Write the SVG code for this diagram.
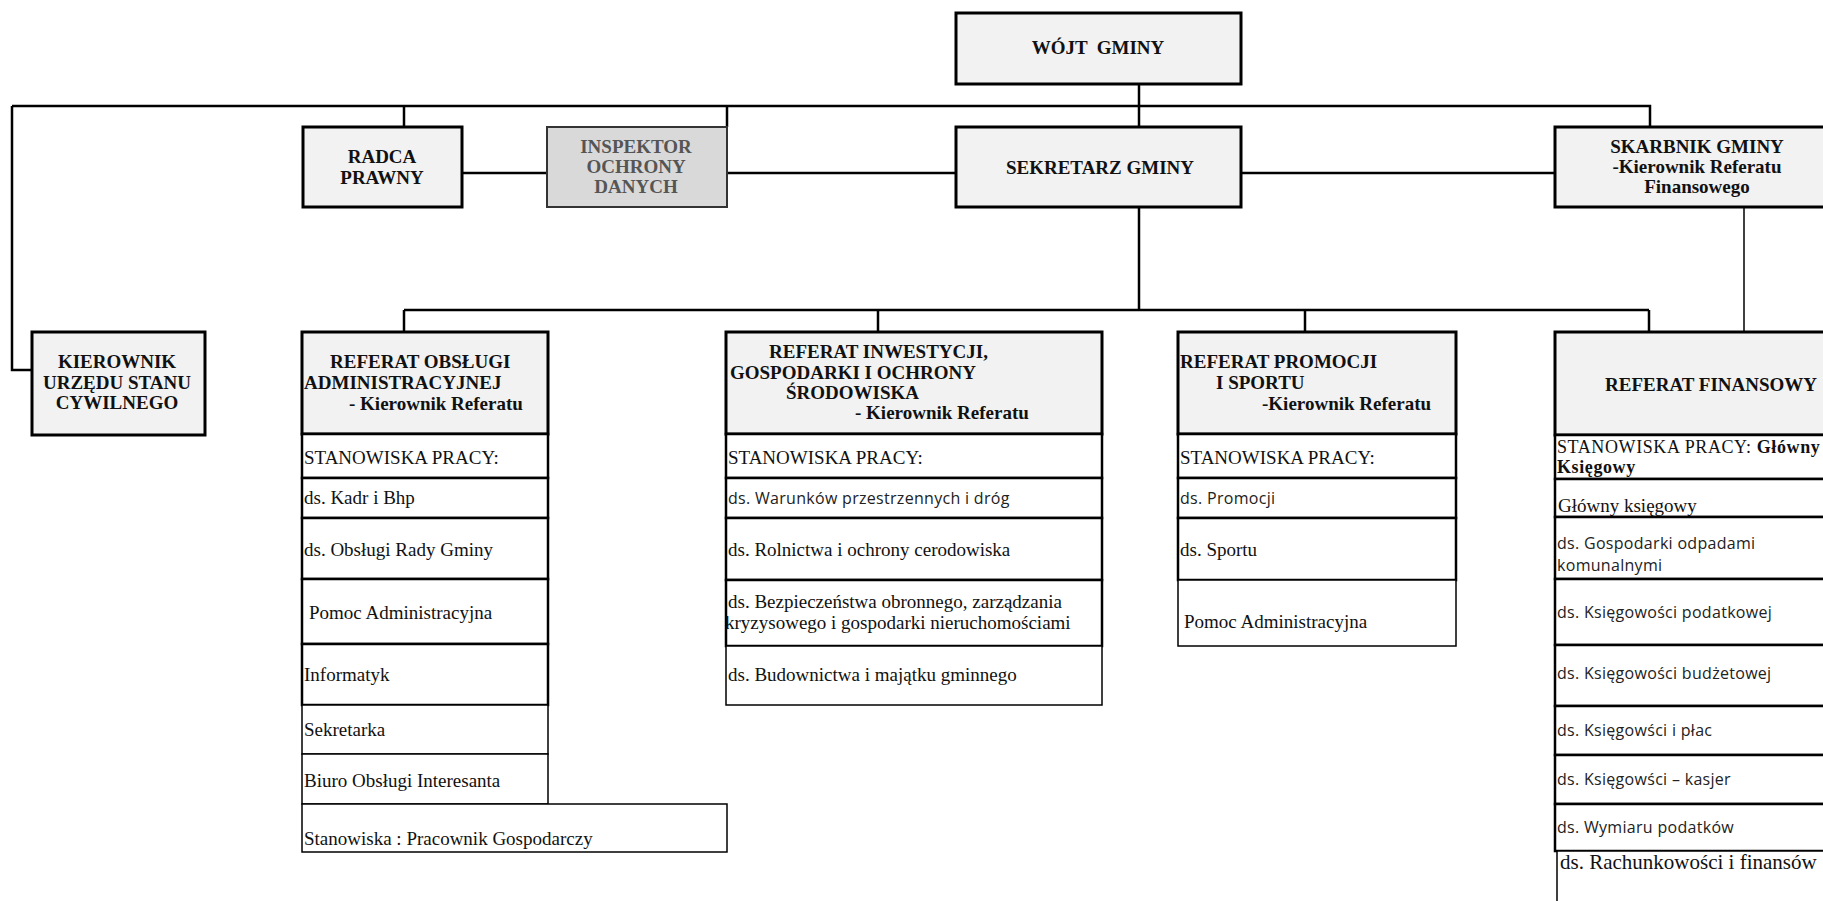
<svg xmlns="http://www.w3.org/2000/svg" width="1823" height="901" viewBox="0 0 1823 901">
<style>
.bg{fill:#fff}
.box{fill:#f2f2f2;stroke:#000;stroke-width:3}
.gray{fill:#d9d9d9;stroke:#333;stroke-width:2}
.row{fill:#fff;stroke:#000;stroke-width:2.5}
.thin{fill:#fff;stroke:#000;stroke-width:1.5}
.hd{font-family:"Liberation Serif",serif;font-weight:bold;font-size:19px;fill:#111}
.hdg{font-family:"Liberation Serif",serif;font-weight:bold;font-size:19px;fill:#555}
.tx{font-family:"Liberation Serif",serif;font-size:19px;fill:#111}
.st{font-family:"Liberation Serif",serif;font-size:18px;letter-spacing:0.6px;fill:#111}
.sn{font-family:"Open Sans",sans-serif;font-size:16px;letter-spacing:0.3px;fill:#222}
.big{font-family:"Liberation Serif",serif;font-size:21px;fill:#111}
.ln{stroke:#000;stroke-width:2.5;fill:none}
.lt{stroke:#000;stroke-width:1.5;fill:none}
</style>
<rect class="bg" x="0" y="0" width="1823" height="901"/>
<g id="connectors">
<path class="ln" d="M12,106 H1650 V127"/>
<path class="ln" d="M12,106 V370 H32"/>
<path class="ln" d="M404,106 V127"/>
<path class="ln" d="M727,106 V127"/>
<path class="ln" d="M1139,84 V127"/>
<path class="ln" d="M462,173 H547"/>
<path class="ln" d="M727,173 H956"/>
<path class="ln" d="M1241,173 H1555"/>
<path class="ln" d="M1139,207 V310"/>
<path class="ln" d="M404,310 H1649"/>
<path class="ln" d="M404,310 V332"/>
<path class="ln" d="M878,310 V332"/>
<path class="ln" d="M1305,310 V332"/>
<path class="ln" d="M1649,310 V332"/>
<path class="lt" d="M1744,207 V332"/>
</g>
<g id="wojt">
<rect class="box" x="956" y="13" width="285" height="71"/>
<text class="hd" x="1098" y="54" text-anchor="middle" xml:space="preserve">WÓJT  GMINY</text>
</g>
<g id="sekretarz">
<rect class="box" x="956" y="127" width="285" height="80"/>
<text class="hd" x="1100" y="174" text-anchor="middle">SEKRETARZ GMINY</text>
</g>
<g id="radca">
<rect class="box" x="303" y="127" width="159" height="80"/>
<text class="hd" x="382" y="163" text-anchor="middle">RADCA</text>
<text class="hd" x="382" y="184" text-anchor="middle">PRAWNY</text>
</g>
<g id="inspektor">
<rect class="gray" x="547" y="127" width="180" height="80"/>
<text class="hdg" x="636" y="153" text-anchor="middle">INSPEKTOR</text>
<text class="hdg" x="636" y="173" text-anchor="middle">OCHRONY</text>
<text class="hdg" x="636" y="193" text-anchor="middle">DANYCH</text>
</g>
<g id="skarbnik">
<rect class="box" x="1555" y="127" width="300" height="80"/>
<text class="hd" x="1697" y="153" text-anchor="middle">SKARBNIK GMINY</text>
<text class="hd" x="1697" y="173" text-anchor="middle">-Kierownik Referatu</text>
<text class="hd" x="1697" y="193" text-anchor="middle">Finansowego</text>
</g>
<g id="kierownik-usc">
<rect class="box" x="32" y="332" width="173" height="103"/>
<text class="hd" x="117" y="368" text-anchor="middle">KIEROWNIK</text>
<text class="hd" x="117" y="389" text-anchor="middle">URZĘDU STANU</text>
<text class="hd" x="117" y="409" text-anchor="middle">CYWILNEGO</text>
</g>
<g id="referat-obslugi">
<rect class="box" x="302" y="332" width="246" height="102"/>
<text class="hd" x="330" y="368">REFERAT OBSŁUGI</text>
<text class="hd" x="304" y="389">ADMINISTRACYJNEJ</text>
<text class="hd" x="349" y="410">- Kierownik Referatu</text>
<rect class="row" x="302" y="434" width="246" height="44"/>
<text class="tx" x="304" y="464">STANOWISKA PRACY:</text>
<rect class="row" x="302" y="478" width="246" height="40"/>
<text class="tx" x="304" y="504">ds. Kadr i Bhp</text>
<rect class="row" x="302" y="518" width="246" height="61"/>
<text class="tx" x="304" y="556">ds. Obsługi Rady Gminy</text>
<rect class="row" x="302" y="579" width="246" height="65"/>
<text class="tx" x="309" y="619">Pomoc Administracyjna</text>
<rect class="row" x="302" y="644" width="246" height="61"/>
<text class="tx" x="304" y="681">Informatyk</text>
<rect class="thin" x="302" y="705" width="246" height="49"/>
<text class="tx" x="304" y="736">Sekretarka</text>
<rect class="thin" x="302" y="754" width="246" height="50"/>
<text class="tx" x="304" y="787">Biuro Obsługi Interesanta</text>
<rect class="thin" x="302" y="804" width="425" height="48"/>
<text class="tx" x="304" y="845">Stanowiska : Pracownik Gospodarczy</text>
</g>
<g id="referat-inwestycji">
<rect class="box" x="726" y="332" width="376" height="102"/>
<text class="hd" x="769" y="358">REFERAT INWESTYCJI,</text>
<text class="hd" x="730" y="379">GOSPODARKI I OCHRONY</text>
<text class="hd" x="786" y="399">ŚRODOWISKA</text>
<text class="hd" x="855" y="419">- Kierownik Referatu</text>
<rect class="row" x="726" y="434" width="376" height="44"/>
<text class="tx" x="728" y="464">STANOWISKA PRACY:</text>
<rect class="row" x="726" y="478" width="376" height="40"/>
<text class="sn" x="728" y="504">ds. Warunków przestrzennych i dróg</text>
<rect class="row" x="726" y="518" width="376" height="62"/>
<text class="tx" x="728" y="556">ds. Rolnictwa i  ochrony cerodowiska</text>
<rect class="row" x="726" y="580" width="376" height="66"/>
<text class="tx" x="728" y="608">ds. Bezpieczeństwa obronnego, zarządzania</text>
<text class="tx" x="725" y="629">kryzysowego i gospodarki nieruchomościami</text>
<rect class="thin" x="726" y="646" width="376" height="59"/>
<text class="tx" x="728" y="681">ds. Budownictwa i majątku gminnego</text>
</g>
<g id="referat-promocji">
<rect class="box" x="1178" y="332" width="278" height="102"/>
<text class="hd" x="1180" y="368">REFERAT PROMOCJI</text>
<text class="hd" x="1216" y="389">I SPORTU</text>
<text class="hd" x="1262" y="410">-Kierownik Referatu</text>
<rect class="row" x="1178" y="434" width="278" height="44"/>
<text class="tx" x="1180" y="464">STANOWISKA PRACY:</text>
<rect class="row" x="1178" y="478" width="278" height="40"/>
<text class="sn" x="1180" y="504">ds. Promocji</text>
<rect class="row" x="1178" y="518" width="278" height="62"/>
<text class="tx" x="1180" y="556">ds. Sportu</text>
<rect class="thin" x="1178" y="580" width="278" height="66"/>
<text class="tx" x="1184" y="628">Pomoc Administracyjna</text>
</g>
<g id="referat-finansowy">
<rect class="box" x="1555" y="332" width="300" height="103"/>
<text class="hd" x="1605" y="391">REFERAT FINANSOWY</text>
<rect class="row" x="1555" y="435" width="300" height="44"/>
<text class="st" x="1557" y="453">STANOWISKA PRACY: <tspan font-weight="bold">Główny</tspan></text>
<text class="st" x="1557" y="473" font-weight="bold">Księgowy</text>
<rect class="row" x="1555" y="479" width="300" height="38"/>
<text class="tx" x="1558" y="512">Główny księgowy</text>
<rect class="row" x="1555" y="517" width="300" height="62"/>
<text class="sn" x="1557" y="549">ds. Gospodarki odpadami</text>
<text class="sn" x="1557" y="571">komunalnymi</text>
<rect class="row" x="1555" y="579" width="300" height="66"/>
<text class="sn" x="1557" y="618">ds. Księgowości podatkowej</text>
<rect class="row" x="1555" y="645" width="300" height="61"/>
<text class="sn" x="1557" y="679">ds. Księgowości budżetowej</text>
<rect class="row" x="1555" y="706" width="300" height="49"/>
<text class="sn" x="1557" y="736">ds. Księgowści i  płac</text>
<rect class="row" x="1555" y="755" width="300" height="49"/>
<text class="sn" x="1557" y="785">ds. Księgowści – kasjer</text>
<rect class="row" x="1555" y="804" width="300" height="47"/>
<text class="sn" x="1557" y="833">ds. Wymiaru podatków</text>
<rect class="thin" x="1557" y="851" width="300" height="60"/>
<text class="big" x="1560" y="869">ds. Rachunkowości i finansów</text>
</g>
</svg>
